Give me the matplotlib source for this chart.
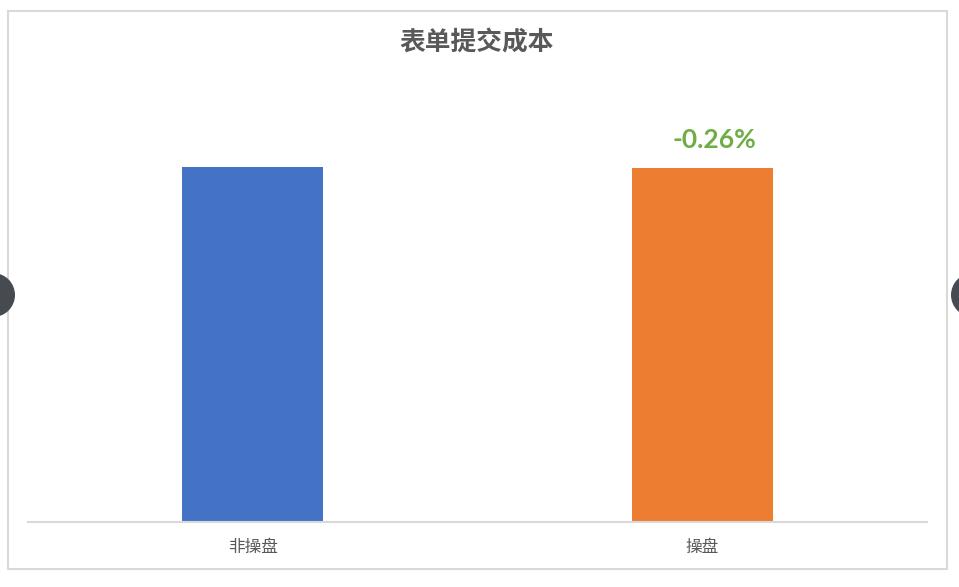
import matplotlib
matplotlib.use("Agg")
import matplotlib.pyplot as plt
from matplotlib.patches import Rectangle, Ellipse

plt.rcParams['font.family'] = ['Noto Sans CJK SC', 'DejaVu Sans']

categories = ["非操盘", "操盘"]
values = [1.0, 0.9974]
colors = ["#4472C4", "#ED7D31"]
title = "表单提交成本"
change_label = "-0.26%"

W, H = 959, 587
fig = plt.figure(figsize=(W / 100, H / 100), dpi=100)
fig.patch.set_facecolor("white")

# chart border
fig.patches.append(Rectangle((8 / W, 1 - 569 / H), (947 - 8) / W, (569 - 11) / H,
                             transform=fig.transFigure, fill=False,
                             edgecolor="#D9D9D9", linewidth=1.5))

ax = fig.add_axes([28 / W, 65 / H, (927 - 28) / W, 426 / H])
ax.bar(range(len(categories)), values, width=0.314, color=colors)
ax.set_xlim(-0.5, 1.5)
ax.set_ylim(0, 1.2)
ax.set_yticks([])
ax.set_xticks(range(len(categories)))
ax.set_xticklabels(categories, fontsize=12, color="#595959")
ax.tick_params(axis="x", length=0, pad=12)
for s in ["top", "right", "left"]:
    ax.spines[s].set_visible(False)
ax.spines["bottom"].set_color("#D9D9D9")
ax.spines["bottom"].set_linewidth(1.5)

ax.annotate(change_label, xy=(1, values[1]), xytext=(9, 20), textcoords="offset points",
            ha="center", va="center", fontsize=19, fontweight="bold",
            color="#70AD47", family=["Lato", "DejaVu Sans"])

fig.text(477 / W, 1 - 43 / H, title, ha="center", va="center", fontsize=18.5,
         fontweight="bold", color="#595959")

# side navigation buttons
for cx in (-7, 973):
    fig.patches.append(Ellipse((cx / W, 1 - 295 / H), 44 / W, 44 / H,
                               transform=fig.transFigure,
                               facecolor="#464A51", edgecolor="none"))

fig.savefig("out.png", dpi=100)
